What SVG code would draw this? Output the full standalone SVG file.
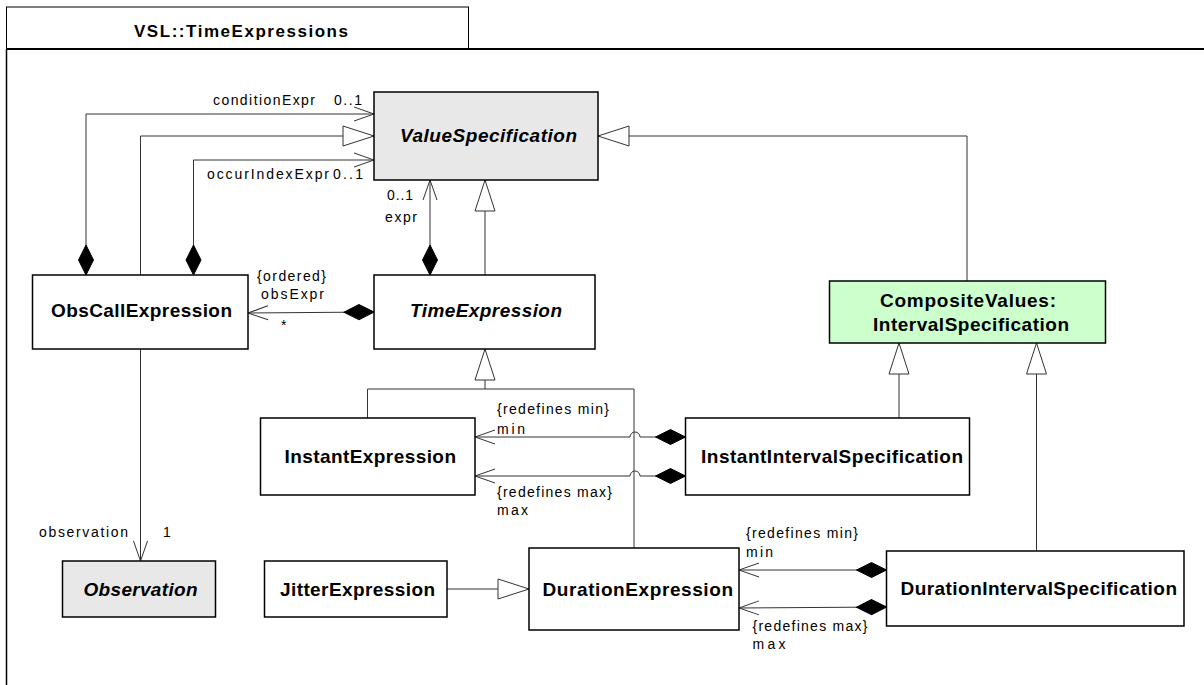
<svg xmlns="http://www.w3.org/2000/svg" width="1204" height="685" viewBox="0 0 1204 685">
<style>
.box{fill:#fff;stroke:#000;stroke-width:1.5}
.gray{fill:#e8e8e8}
.green{fill:#ccffcc}
.nl{font-family:"Liberation Sans",Arial,sans-serif;font-size:19px;font-weight:bold;fill:#000}
.it{font-style:italic}
.el{font-family:"Liberation Sans",Arial,sans-serif;font-size:14px;fill:#000}
.c{fill:none;stroke:#333;stroke-width:1}
.assoc{marker-end:url(#open)}
.comp{marker-start:url(#dia);marker-end:url(#open)}
.gen{marker-end:url(#tri)}
</style>
<defs>
<marker id="open" markerUnits="userSpaceOnUse" viewBox="-22 -9 24 18" refX="0" refY="0" markerWidth="24" markerHeight="18" orient="auto">
<path d="M-20,-7 L0,0 L-20,7" fill="none" stroke="#333" stroke-width="1"/>
</marker>
<marker id="tri" markerUnits="userSpaceOnUse" viewBox="-32 -12 34 24" refX="0" refY="0" markerWidth="34" markerHeight="24" orient="auto">
<path d="M-31,-10 L0,0 L-31,10 Z" fill="#fff" stroke="#333" stroke-width="1"/>
</marker>
<marker id="dia" markerUnits="userSpaceOnUse" viewBox="-2 -10 34 20" refX="0" refY="0" markerWidth="34" markerHeight="20" orient="auto">
<path d="M0,0 L15,-7.5 L30,0 L15,7.5 Z" fill="#000" stroke="#000" stroke-width="1"/>
</marker>
</defs>
<rect width="1204" height="685" fill="#fff"/>
<g id="frame">
<rect x="6.5" y="7" width="462" height="42" fill="#fff" stroke="#000" stroke-width="1"/>
<line x1="6.5" y1="49" x2="1204" y2="49" stroke="#000" stroke-width="2"/>
<line x1="6.5" y1="49" x2="6.5" y2="685" stroke="#000" stroke-width="1.5"/>
<text x="134" y="37" class="nl" style="font-size:17px" textLength="214" lengthAdjust="spacing">VSL::TimeExpressions</text>
</g>
<g id="connectors">
<path class="c comp" d="M86,275 V114 H374"/>
<path class="c gen" d="M140.5,275 V136 H374"/>
<path class="c comp" d="M193.5,275 V160 H374"/>
<path class="c comp" d="M430,275 V180"/>
<path class="c gen" d="M485,275 V180"/>
<path class="c comp" d="M374,312 L248,313"/>
<path class="c gen" d="M967,281 V136 H598"/>
<path class="c" d="M634,548 V389 H485"/>
<path class="c gen" d="M367.5,418 V389 H485 V349"/>
<path class="c comp" d="M685.5,437 H640 A5,5 0 0 0 630,437 H475"/>
<path class="c comp" d="M685.5,476 H640 A5,5 0 0 0 630,476 H475"/>
<path class="c gen" d="M899,418 V343"/>
<path class="c gen" d="M1036.5,551 V343"/>
<path class="c comp" d="M886.5,570 H739"/>
<path class="c comp" d="M886.5,607 L739,608"/>
<path class="c gen" d="M447,589 H529"/>
<path class="c assoc" d="M140.5,349 V561"/>
<g id="edge-labels" class="el">
<text x="213" y="105" textLength="102" lengthAdjust="spacing">conditionExpr</text>
<text x="334" y="105" textLength="28" lengthAdjust="spacing">0..1</text>
<text x="207" y="179" textLength="122" lengthAdjust="spacing">occurIndexExpr</text>
<text x="333" y="179" textLength="30" lengthAdjust="spacing">0..1</text>
<text x="387" y="200" textLength="26" lengthAdjust="spacing">0..1</text>
<text x="385" y="222" textLength="32" lengthAdjust="spacing">expr</text>
<text x="257" y="281" textLength="69" lengthAdjust="spacing">{ordered}</text>
<text x="261" y="299" textLength="63" lengthAdjust="spacing">obsExpr</text>
<text x="281" y="330">*</text>
<text x="497" y="414" textLength="112" lengthAdjust="spacing">{redefines min}</text>
<text x="497" y="434" textLength="28" lengthAdjust="spacing">min</text>
<text x="497" y="497" textLength="115" lengthAdjust="spacing">{redefines max}</text>
<text x="497" y="515" textLength="31" lengthAdjust="spacing">max</text>
<text x="746" y="538" textLength="112" lengthAdjust="spacing">{redefines min}</text>
<text x="746" y="557" textLength="27" lengthAdjust="spacing">min</text>
<text x="752.5" y="631" textLength="115" lengthAdjust="spacing">{redefines max}</text>
<text x="752.5" y="649" textLength="33" lengthAdjust="spacing">max</text>
<text x="39" y="537" textLength="89" lengthAdjust="spacing">observation</text>
<text x="163" y="537">1</text>
</g>
</g>
<g id="ValueSpecification">
<rect class="box gray" x="374" y="92" width="224" height="88"/>
<text class="nl it" x="400" y="142" textLength="177" lengthAdjust="spacing">ValueSpecification</text>
</g>
<g id="ObsCallExpression">
<rect class="box" x="32.5" y="275" width="215.5" height="74"/>
<text class="nl" x="51" y="317" textLength="181" lengthAdjust="spacing">ObsCallExpression</text>
</g>
<g id="TimeExpression">
<rect class="box" x="374" y="275" width="221" height="74"/>
<text class="nl it" x="410" y="317" textLength="152" lengthAdjust="spacing">TimeExpression</text>
</g>
<g id="IntervalSpecification">
<rect class="box green" x="829.5" y="281" width="276" height="62"/>
<text class="nl" x="880" y="307" textLength="176" lengthAdjust="spacing">CompositeValues:</text>
<text class="nl" x="873" y="331" textLength="196" lengthAdjust="spacing">IntervalSpecification</text>
</g>
<g id="InstantExpression">
<rect class="box" x="260.5" y="418" width="214.5" height="77"/>
<text class="nl" x="284.5" y="463" textLength="171.5" lengthAdjust="spacing">InstantExpression</text>
</g>
<g id="InstantIntervalSpecification">
<rect class="box" x="685.5" y="418" width="284" height="77"/>
<text class="nl" x="701" y="463" textLength="262" lengthAdjust="spacing">InstantIntervalSpecification</text>
</g>
<g id="Observation">
<rect class="box gray" x="62.5" y="561" width="153" height="56"/>
<text class="nl it" x="83.5" y="596" textLength="114" lengthAdjust="spacing">Observation</text>
</g>
<g id="JitterExpression">
<rect class="box" x="264.5" y="561" width="182.5" height="56"/>
<text class="nl" x="280" y="596" textLength="155" lengthAdjust="spacing">JitterExpression</text>
</g>
<g id="DurationExpression">
<rect class="box" x="529" y="548" width="210" height="82"/>
<text class="nl" x="542.5" y="596" textLength="190.5" lengthAdjust="spacing">DurationExpression</text>
</g>
<g id="DurationIntervalSpecification">
<rect class="box" x="886.5" y="551" width="297.5" height="75"/>
<text class="nl" x="900.5" y="595" textLength="276.5" lengthAdjust="spacing">DurationIntervalSpecification</text>
</g>
</svg>
